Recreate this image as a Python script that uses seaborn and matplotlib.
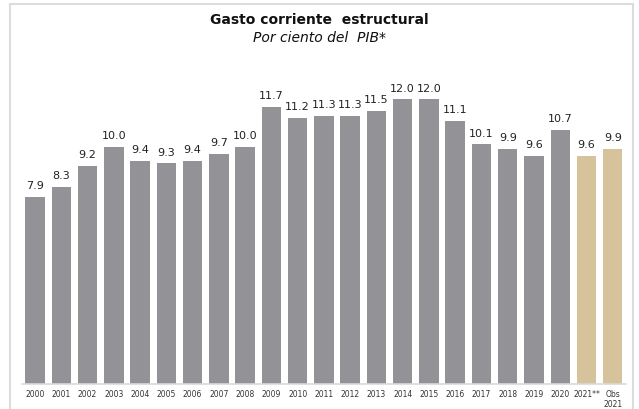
import matplotlib
matplotlib.use('Agg')
import matplotlib.pyplot as plt
import seaborn as sns
import pandas as pd
from matplotlib.patches import Rectangle

# datos
anios = ['2000', '2001', '2002', '2003', '2004', '2005', '2006', '2007', '2008', '2009', '2010',
         '2011', '2012', '2013', '2014', '2015', '2016', '2017', '2018', '2019', '2020',
         '2021**', 'Obs\n2021']
valores = [7.9, 8.3, 9.2, 10.0, 9.4, 9.3, 9.4, 9.7, 10.0, 11.7, 11.2,
           11.3, 11.3, 11.5, 12.0, 12.0, 11.1, 10.1, 9.9, 9.6, 10.7,
           9.6, 9.9]
tipo = ['hist'] * 21 + ['est'] * 2

df = pd.DataFrame({'anio': anios, 'valor': valores, 'tipo': tipo})

sns.set_style('white')
plt.rcParams['font.family'] = ['DejaVu Sans']

fig = plt.figure(figsize=(6.39, 4.09), dpi=100)
ax = fig.add_axes([21.9 / 639, 25 / 409, 604 / 639, 332 / 409])

sns.barplot(data=df, x='anio', y='valor', hue='tipo',
            palette={'hist': '#939397', 'est': '#d6c39c'},
            dodge=False, width=0.74, saturation=1, linewidth=0,
            legend=False, ax=ax)

for i, v in enumerate(valores):
    ax.text(i, v + 0.25, f'{v:.1f}', ha='center', va='bottom', fontsize=8, color='#222222')

ax.set_xlim(-0.5, len(anios) - 0.5)
ax.set_ylim(0, 14)
ax.set_yticks([])
ax.set_xlabel('')
ax.set_ylabel('')
ax.tick_params(axis='x', length=0, labelsize=5.5, pad=4, colors='#333333')
for s in ['top', 'right', 'left']:
    ax.spines[s].set_visible(False)
ax.spines['bottom'].set_color('#d9d9d9')
ax.spines['bottom'].set_linewidth(1.2)

fig.text(0.5, 1 - 20 / 409, 'Gasto corriente  estructural', ha='center', va='center',
         fontsize=10, fontweight='bold', color='#111111')
fig.text(0.5, 1 - 38 / 409, 'Por ciento del  PIB*', ha='center', va='center',
         fontsize=10, style='italic', color='#111111')

# marco
fig.patches.append(Rectangle((10 / 639, -0.1), 623 / 639, 1.1 - 4 / 409,
                             transform=fig.transFigure, fill=False,
                             edgecolor='#dcdcdc', linewidth=1.5))

fig.savefig('out.png', dpi=100)
